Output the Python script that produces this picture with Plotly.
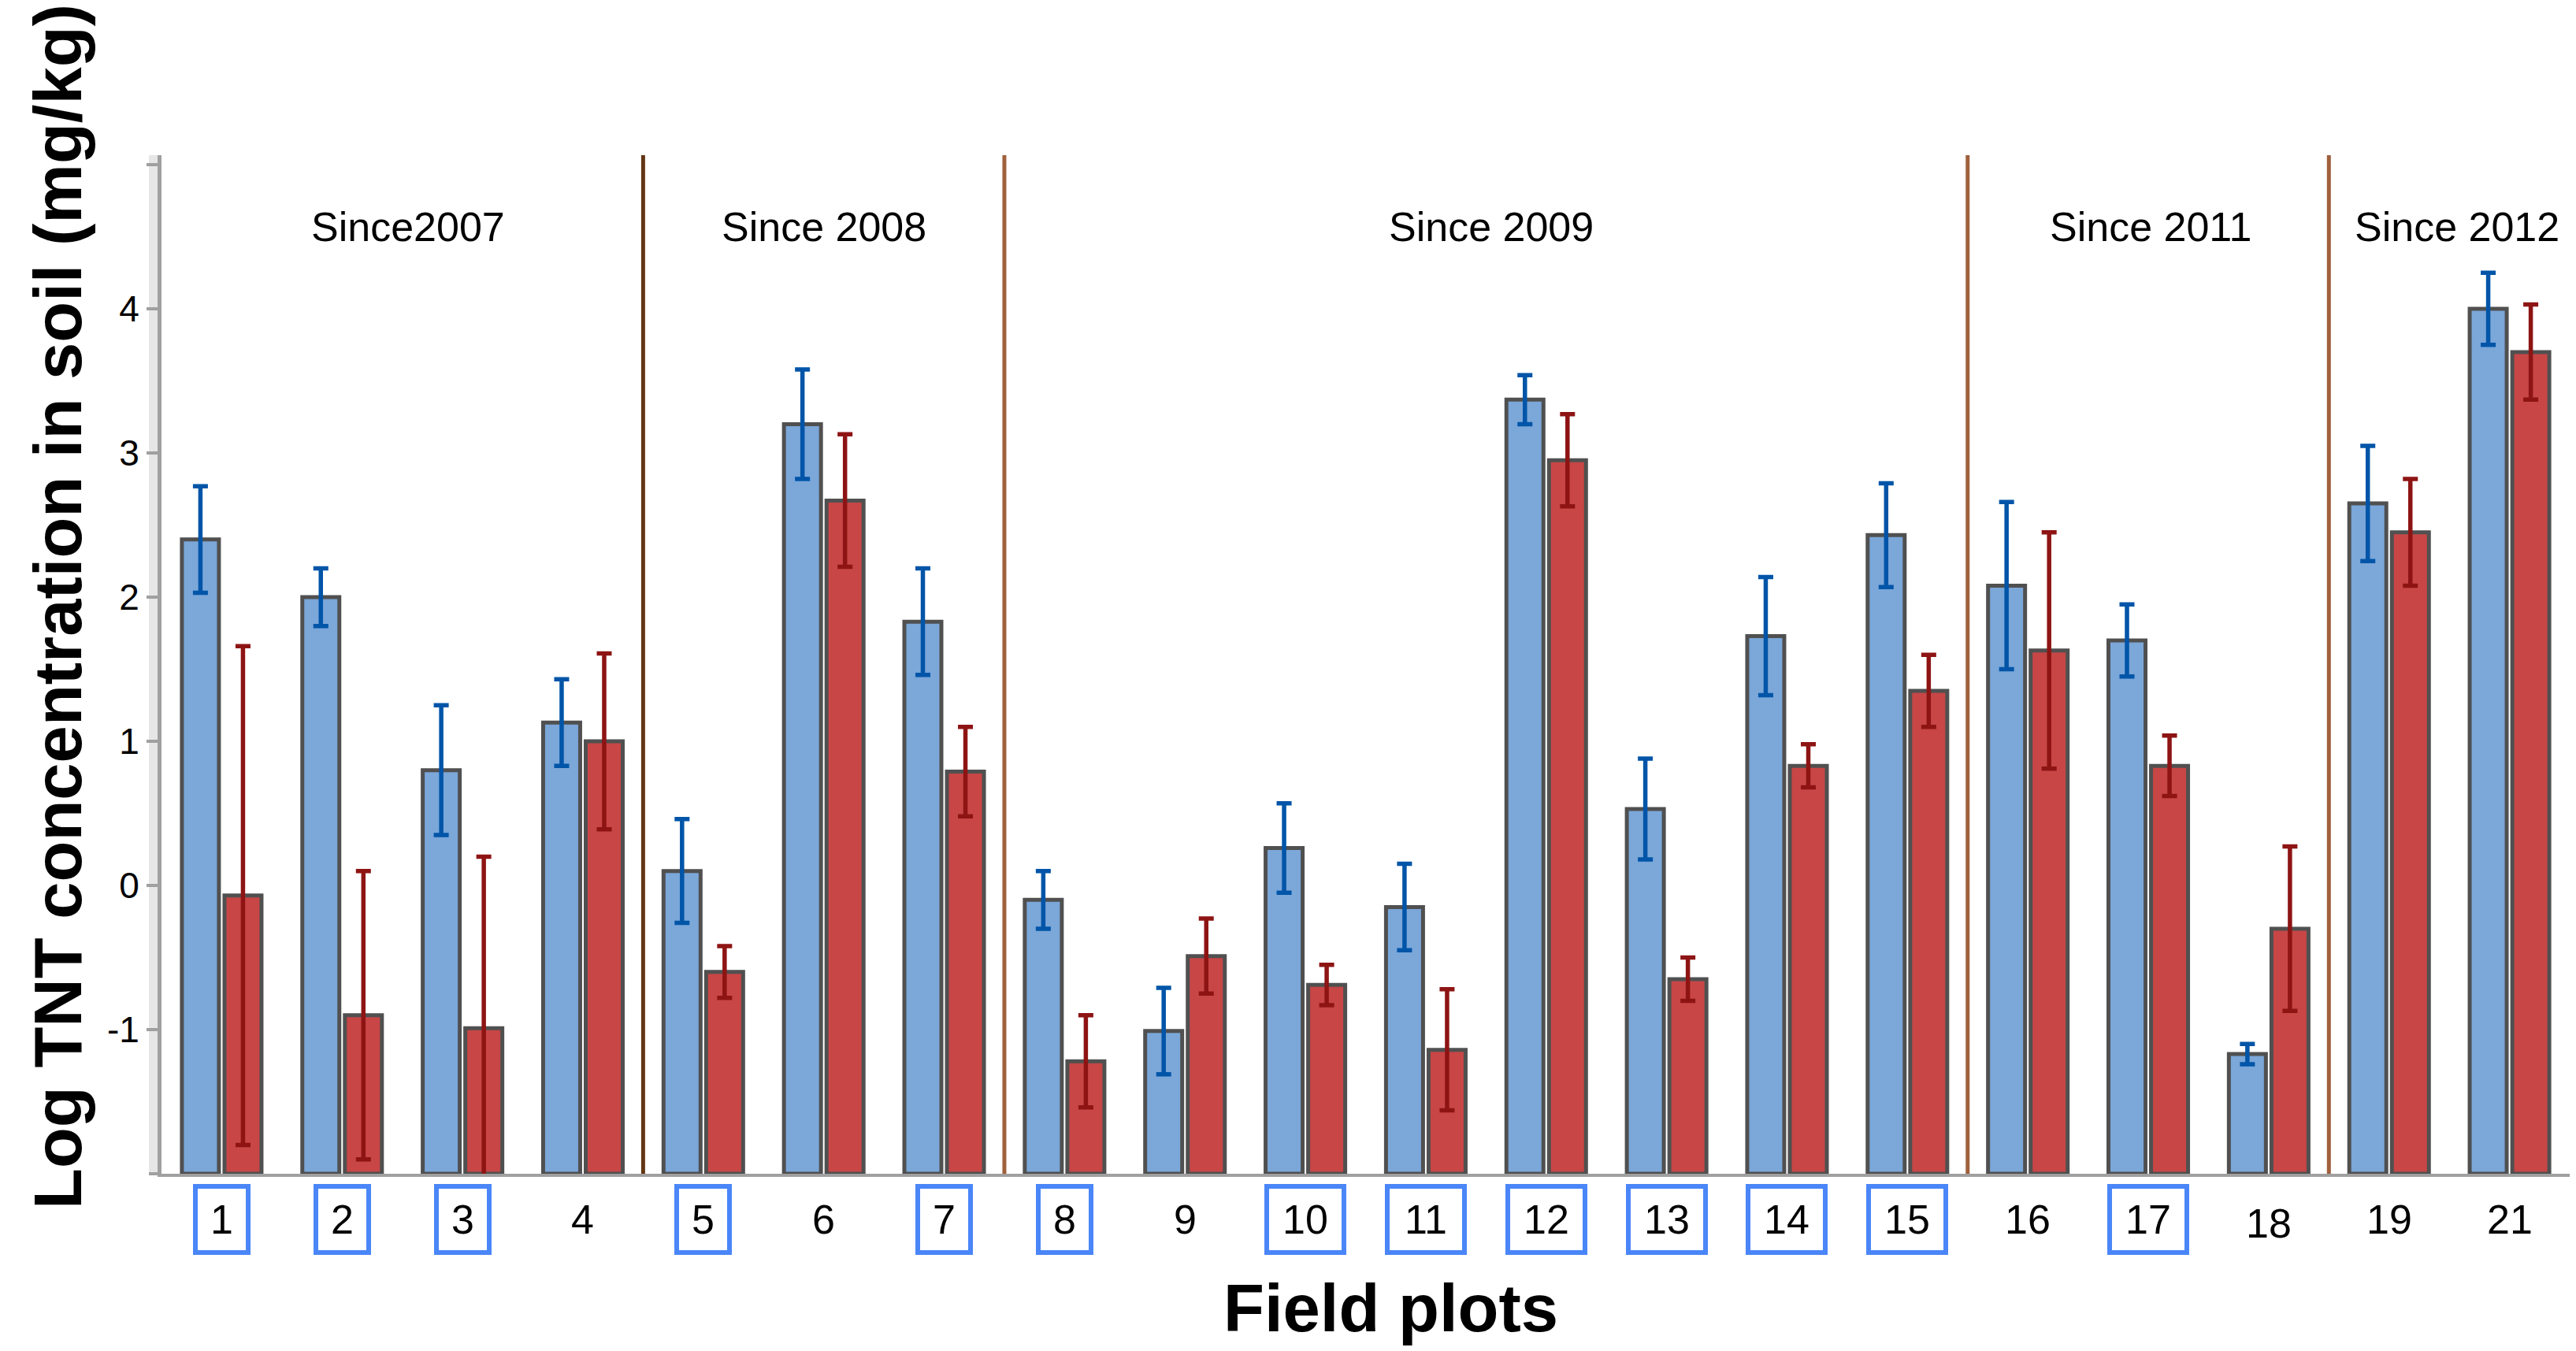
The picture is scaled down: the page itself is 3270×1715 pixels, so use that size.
import plotly.graph_objects as go

# Field plot identifiers (x categories) and which ones are highlighted with a box
plots = ["1", "2", "3", "4", "5", "6", "7", "8", "9", "10",
         "11", "12", "13", "14", "15", "16", "17", "18", "19", "21"]
boxed_plots = ["1", "2", "3", "5", "7", "8", "10", "11", "12", "13", "14", "15", "17"]

# Log TNT concentration in soil (mg/kg): blue and red series with error bars
blue_mean = [2.40, 2.00, 0.80, 1.13, 0.10, 3.20, 1.83, -0.10, -1.01, 0.26,
             -0.15, 3.37, 0.53, 1.73, 2.43, 2.08, 1.70, -1.17, 2.65, 4.00]
blue_err = [0.37, 0.20, 0.45, 0.30, 0.36, 0.38, 0.37, 0.20, 0.30, 0.31,
            0.30, 0.17, 0.35, 0.41, 0.36, 0.58, 0.25, 0.07, 0.40, 0.25]
red_mean = [-0.07, -0.90, -0.99, 1.00, -0.60, 2.67, 0.79, -1.22, -0.49, -0.69,
            -1.14, 2.95, -0.65, 0.83, 1.35, 1.63, 0.83, -0.30, 2.45, 3.70]
red_err = [1.73, 1.00, 1.19, 0.61, 0.18, 0.46, 0.31, 0.32, 0.26, 0.14,
           0.42, 0.32, 0.15, 0.15, 0.25, 0.82, 0.21, 0.57, 0.37, 0.33]

# Period groups: label, first plot index, last plot index
periods = [("Since2007", 0, 3), ("Since 2008", 4, 6), ("Since 2009", 7, 14),
           ("Since 2011", 15, 17), ("Since 2012", 18, 19)]

y_ticks = [-1, 0, 1, 2, 3, 4, 5]
y_tick_text = ["-1", "0", "1", "2", "3", "4", ""]

BASE = -2.0
FONT = "Liberation Sans, Arial, sans-serif"
OUTLINE = "#505050"

fig = go.Figure()
fig.add_trace(go.Bar(
    x=plots, y=[v - BASE for v in blue_mean], base=BASE,
    marker=dict(color="#7BA7D9", line=dict(color=OUTLINE, width=5)),
    error_y=dict(type="data", array=blue_err, color="#0055A8", thickness=5.5, width=9.5),
))
fig.add_trace(go.Bar(
    x=plots, y=[v - BASE for v in red_mean], base=BASE,
    marker=dict(color="#C84646", line=dict(color=OUTLINE, width=5)),
    error_y=dict(type="data", array=red_err, color="#8E1414", thickness=5.5, width=9.5),
))

W, H = 3270, 1715
L, R, T, B = 205, 8, 197, 225
pw, ph = W - L - R, H - T - B


def px_x(px):
    return (px - L) / pw


def px_y(py):
    return (H - B - py) / ph


shapes = []
# light wall strip left of the y axis
shapes.append(dict(type="rect", xref="paper", yref="paper",
                   x0=px_x(189), x1=px_x(203), y0=0, y1=1,
                   fillcolor="#e6e6e6", line=dict(width=0), layer="below"))
shapes.append(dict(type="line", xref="paper", yref="paper",
                   x0=px_x(189), x1=0, y0=0, y1=0,
                   line=dict(color="#a0a0a0", width=4)))

# vertical separators between the periods
sep_colors = ["#643514", "#A0603C", "#A0603C", "#A0603C"]
for (lab, i0, i1), col in zip(periods[:-1], sep_colors):
    xs = i1 + 0.5
    shapes.append(dict(type="line", xref="x", yref="paper", x0=xs, x1=xs,
                       y0=0, y1=1, line=dict(color=col, width=5)))

annotations = []
# period labels
period_px = [518, 1046, 1893, 2730, 3119]
for (lab, i0, i1), cx in zip(periods, period_px):
    annotations.append(dict(text=lab, xref="paper", yref="paper",
                            x=px_x(cx), y=px_y(288), xanchor="center", yanchor="middle",
                            showarrow=False, font=dict(family=FONT, size=52, color="black")))

# x tick labels, some framed in blue
label_shift = {"18": -5}
for i, p in enumerate(plots):
    a = dict(text=p, xref="x", yref="paper", x=i, y=px_y(1548),
             xanchor="center", yanchor="middle", showarrow=False,
             yshift=label_shift.get(p, 0),
             font=dict(family=FONT, size=52, color="black"))
    if p in boxed_plots:
        a.update(bordercolor="#4A86F8", borderwidth=6, borderpad=0,
                 width=61 if len(p) == 1 else 92, height=78)
    annotations.append(a)

# axis titles
annotations.append(dict(text="<b>Field plots</b>", xref="paper", yref="paper",
                        x=px_x(1766), y=px_y(1660), xanchor="center", yanchor="middle",
                        showarrow=False, font=dict(family=FONT, size=85, color="black")))
annotations.append(dict(text="<b>Log TNT concentration in soil (mg/kg)</b>",
                        xref="paper", yref="paper", x=px_x(73), y=px_y(770),
                        xanchor="center", yanchor="middle", textangle=-90,
                        showarrow=False, font=dict(family=FONT, size=85, color="black")))

fig.update_layout(
    width=W, height=H,
    margin=dict(l=L, r=R, t=T, b=B),
    plot_bgcolor="white", paper_bgcolor="white",
    barmode="group", bargap=0.293, bargroupgap=0.13,
    showlegend=False,
    shapes=shapes, annotations=annotations,
)
fig.update_xaxes(type="category", range=[-0.5, len(plots) - 0.5],
                 showticklabels=False, ticks="", showgrid=False, zeroline=False,
                 showline=True, linecolor="#a0a0a0", linewidth=4)
fig.update_yaxes(range=[BASE, 5.066], tickvals=y_ticks, ticktext=y_tick_text,
                 ticks="outside", ticklen=14, tickwidth=4, tickcolor="#a0a0a0",
                 showline=True, linecolor="#a0a0a0", linewidth=5,
                 showgrid=False, zeroline=False,
                 tickfont=dict(family=FONT, size=46, color="black"))

fig.write_html("out.html")
